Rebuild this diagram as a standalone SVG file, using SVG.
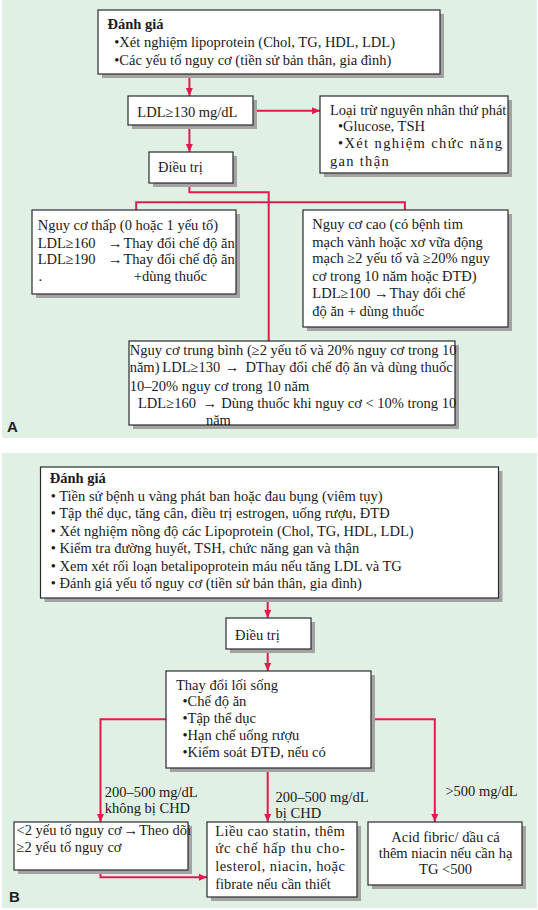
<svg xmlns="http://www.w3.org/2000/svg" width="538" height="910" viewBox="0 0 538 910">
<style>
.panel{fill:#e1f0e4}
.box{fill:#ffffff;stroke:#2b2b2b;stroke-width:1.2}
.sh{fill:#a3a3a3}
.t{font-family:"Liberation Serif","Times New Roman",serif;font-size:14.5px;fill:#1a1a1a}
.b{font-weight:bold}
.lab{font-family:"Liberation Sans",Arial,sans-serif;font-size:15px;font-weight:bold;fill:#222}
.c{fill:none;stroke:#e3194f;stroke-width:2}
.ca{fill:none;stroke:#e3194f;stroke-width:2;marker-end:url(#ah)}
</style>
<defs>
<marker id="ah" markerUnits="userSpaceOnUse" markerWidth="9" markerHeight="8" refX="8" refY="3.5" orient="auto">
<path d="M0,0 L8,3.5 L0,7 z" fill="#e3194f"/>
</marker>
</defs>
<rect class="panel" x="2" y="0" width="535" height="438"/>
<rect class="panel" x="2" y="453" width="535" height="455"/>

<g id="connectors">
<line class="ca" x1="189.4" y1="74" x2="189.4" y2="96"/>
<line class="ca" x1="253" y1="110.7" x2="320" y2="110.7"/>
<line class="ca" x1="189.4" y1="125" x2="189.4" y2="152"/>
<polyline class="c" points="189.4,183 189.4,192.3 268.7,192.3 268.7,341"/>
<polyline class="c" points="136.2,210 136.2,202.3 404.9,202.3 404.9,210"/>
<line class="ca" x1="267.7" y1="598" x2="267.7" y2="618"/>
<line class="ca" x1="267.7" y1="649" x2="267.7" y2="671"/>
<polyline class="ca" points="166,719.3 100.5,719.3 100.5,822"/>
<polyline class="ca" points="371,719.3 434.8,719.3 434.8,822"/>
<line class="ca" x1="267.7" y1="768" x2="267.7" y2="822"/>
<polyline class="ca" points="100.5,870 100.5,877.3 207,877.3"/>
</g>

<g id="a-danh-gia">
<rect class="sh" x="102" y="14" width="342" height="64"/>
<rect class="box" x="98" y="10" width="342" height="64"/>
<text class="t b" x="107.5" y="28.5">Đánh giá</text>
<text class="t" x="114.3" y="46.7">•Xét nghiệm lipoprotein (Chol, TG, HDL, LDL)</text>
<text class="t" x="114.3" y="64.5">•Các yếu tố nguy cơ (tiền sử bản thân, gia đình)</text>
</g>

<g id="a-ldl">
<rect class="sh" x="132" y="100" width="125" height="29"/>
<rect class="box" x="128" y="96" width="125" height="29"/>
<text class="t" x="137.3" y="116.5">LDL≥130 mg/dL</text>
</g>

<g id="a-loai-tru">
<rect class="sh" x="324" y="100" width="188" height="77"/>
<rect class="box" x="320" y="96" width="188" height="77"/>
<text class="t" x="330" y="115">Loại trừ nguyên nhân thứ phát</text>
<text class="t" x="338" y="130.5">•Glucose, TSH</text>
<text class="t" x="338" y="148.3" textLength="164" lengthAdjust="spacing">•Xét nghiệm chức năng</text>
<text class="t" x="330" y="166" letter-spacing="1.3">gan thận</text>
</g>

<g id="a-dieu-tri">
<rect class="sh" x="153" y="156" width="84" height="31"/>
<rect class="box" x="149" y="152" width="84" height="31"/>
<text class="t" x="158" y="171.7">Điều trị</text>
</g>

<g id="a-nguy-co-thap">
<rect class="sh" x="36" y="214" width="204" height="84"/>
<rect class="box" x="32" y="210" width="204" height="84"/>
<text class="t" x="37.7" y="230">Nguy cơ thấp (0 hoặc 1 yếu tố)</text>
<text class="t" y="248.3"><tspan x="37.7">LDL≥160</tspan><tspan x="108">→</tspan><tspan x="123.5">Thay đổi chế độ ăn</tspan></text>
<text class="t" y="264.3"><tspan x="37.7">LDL≥190</tspan><tspan x="108">→</tspan><tspan x="123.5">Thay đổi chế độ ăn</tspan></text>
<text class="t" y="281"><tspan x="38.4">.</tspan><tspan x="133.8">+dùng thuốc</tspan></text>
</g>

<g id="a-nguy-co-cao">
<rect class="sh" x="307" y="214" width="205" height="117"/>
<rect class="box" x="303" y="210" width="205" height="117"/>
<text class="t" x="312.3" y="229">Nguy cơ cao (có bệnh tim</text>
<text class="t" x="312.3" y="246.7">mạch vành hoặc xơ vữa động</text>
<text class="t" x="312.3" y="263.3">mạch ≥2 yếu tố và ≥20% nguy</text>
<text class="t" x="312.3" y="281">cơ trong 10 năm hoặc ĐTĐ)</text>
<text class="t" y="297.7"><tspan x="312.3">LDL≥100</tspan><tspan x="374">→</tspan><tspan x="389.5">Thay đổi chế</tspan></text>
<text class="t" x="312.3" y="315.7">độ ăn + dùng thuốc</text>
</g>

<g id="a-nguy-co-trung-binh">
<rect class="sh" x="133" y="345" width="326" height="84"/>
<rect class="box" x="129" y="341" width="326" height="84"/>
<text class="t" x="129.7" y="354.5">Nguy cơ trung bình (≥2 yếu tố và 20% nguy cơ trong 10</text>
<text class="t" y="371.7"><tspan x="129.7">năm)</tspan><tspan x="162.3">LDL≥130</tspan><tspan x="224.8">→</tspan><tspan x="245.4">DThay đổi chế độ ăn và dùng thuốc</tspan></text>
<text class="t" x="129.7" y="390.5">10–20% nguy cơ trong 10 năm</text>
<text class="t" y="407.5"><tspan x="138">LDL≥160</tspan><tspan x="202.5">→</tspan><tspan x="221.3">Dùng thuốc khi nguy cơ &lt; 10% trong 10</tspan></text>
<text class="t" x="205.9" y="425">năm</text>
</g>

<text class="lab" x="7" y="431.5">A</text>

<g id="b-danh-gia">
<rect class="sh" x="44.5" y="471" width="458" height="131"/>
<rect class="box" x="40.5" y="467" width="458" height="131"/>
<text class="t b" x="49.8" y="483.3">Đánh giá</text>
<text class="t" x="50.8" y="501">• Tiền sử bệnh u vàng phát ban hoặc đau bụng (viêm tụy)</text>
<text class="t" x="50.8" y="518.3">• Tập thể dục, tăng cân, điều trị estrogen, uống rượu, ĐTĐ</text>
<text class="t" x="50.8" y="536">• Xét nghiệm nồng độ các Lipoprotein (Chol, TG, HDL, LDL)</text>
<text class="t" x="50.8" y="553.3">• Kiểm tra đường huyết, TSH, chức năng gan và thận</text>
<text class="t" x="50.8" y="570.7">• Xem xét rối loạn betalipoprotein máu nếu tăng LDL và TG</text>
<text class="t" x="50.8" y="588.3">• Đánh giá yếu tố nguy cơ (tiền sử bản thân, gia đình)</text>
</g>

<g id="b-dieu-tri">
<rect class="sh" x="230" y="622" width="85" height="31"/>
<rect class="box" x="226" y="618" width="85" height="31"/>
<text class="t" x="235" y="640">Điều trị</text>
</g>

<g id="b-loi-song">
<rect class="sh" x="170" y="675" width="205" height="97"/>
<rect class="box" x="166" y="671" width="205" height="97"/>
<text class="t" x="176" y="690">Thay đổi lối sống</text>
<text class="t" x="182.5" y="706">•Chế độ ăn</text>
<text class="t" x="182.5" y="723.3">•Tập thể dục</text>
<text class="t" x="182.5" y="740">•Hạn chế uống rượu</text>
<text class="t" x="182.5" y="757.3">•Kiểm soát ĐTĐ, nếu có</text>
</g>

<g id="b-labels">
<text class="t" x="104.7" y="797.3">200–500 mg/dL</text>
<text class="t" x="104.7" y="813.3">không bị CHD</text>
<text class="t" x="275.6" y="802.3">200–500 mg/dL</text>
<text class="t" x="275.6" y="818.3">bị CHD</text>
<text class="t" x="445.4" y="795.7">&gt;500 mg/dL</text>
</g>

<g id="b-yeu-to">
<rect class="sh" x="18" y="826" width="174" height="48"/>
<rect class="box" x="14" y="822" width="174" height="48"/>
<text class="t" y="834.5"><tspan x="16.5">&lt;2 yếu tố nguy cơ</tspan><tspan x="123.5">→</tspan><tspan x="139">Theo dõi</tspan></text>
<text class="t" x="16.5" y="852">≥2 yếu tố nguy cơ</text>
</g>

<g id="b-statin">
<rect class="sh" x="211" y="826" width="150" height="75"/>
<rect class="box" x="207" y="822" width="150" height="75"/>
<text class="t" x="215.2" y="835.5" textLength="129.7" lengthAdjust="spacing">Liều cao statin, thêm</text>
<text class="t" x="215.2" y="853.3" textLength="129.7" lengthAdjust="spacing">ức chế hấp thu cho-</text>
<text class="t" x="215.2" y="871" textLength="129.7" lengthAdjust="spacing">lesterol, niacin, hoặc</text>
<text class="t" x="215.2" y="889">fibrate nếu cần thiết</text>
</g>

<g id="b-acid">
<rect class="sh" x="372" y="826" width="154" height="63"/>
<rect class="box" x="368" y="822" width="154" height="63"/>
<text class="t" x="445.5" y="842" text-anchor="middle">Acid fibric/ dầu cá</text>
<text class="t" x="445.5" y="857.5" text-anchor="middle">thêm niacin nếu cần hạ</text>
<text class="t" x="445.5" y="874" text-anchor="middle">TG &lt;500</text>
</g>

<text class="lab" x="9" y="901.5">B</text>
</svg>
